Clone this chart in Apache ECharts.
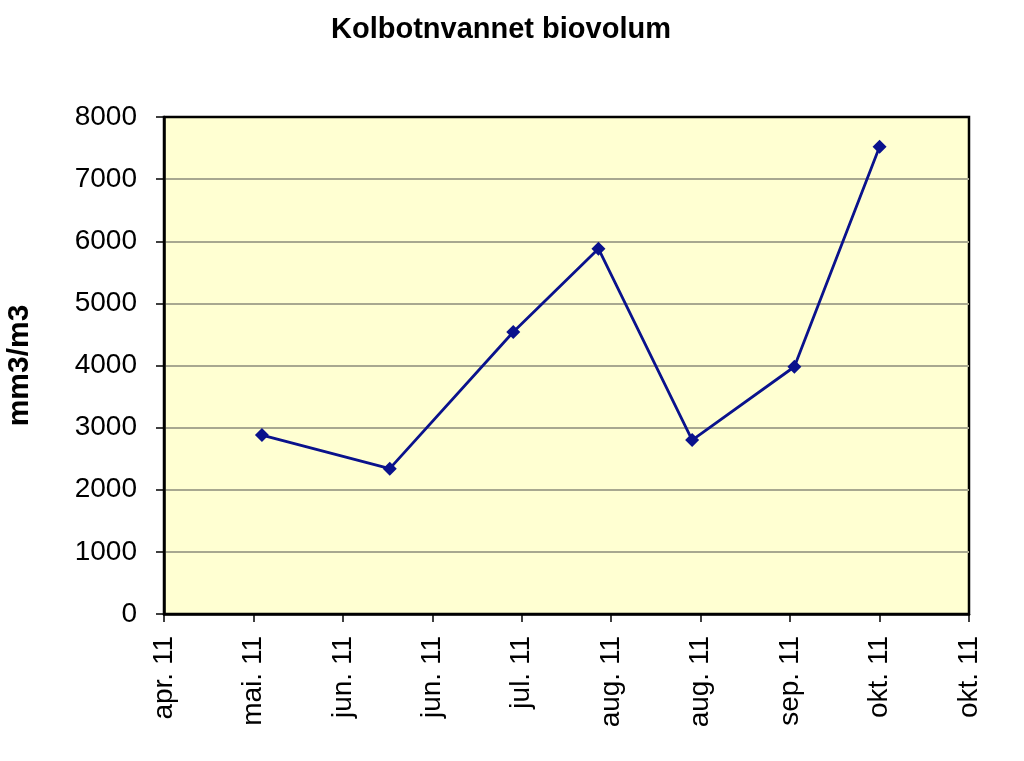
<!DOCTYPE html>
<html>
<head>
<meta charset="utf-8">
<script src="https://cdn.jsdelivr.net/npm/echarts@6/dist/echarts.min.js"></script>
<style>html,body{margin:0;padding:0;background:#fff;}#c{width:1024px;height:761px;}</style>
</head>
<body>
<div id="c"></div>
<script>
// x positions: days after the first axis tick (ticks every 21 days)
const tickLabels = ["apr. 11","mai. 11","jun. 11","jun. 11","jul. 11","aug. 11","aug. 11","sep. 11","okt. 11","okt. 11"];
const sampleDay = [23, 53, 82, 102, 124, 148, 168];
const biovolum = [2880, 2340, 4540, 5880, 2800, 3980, 7520];

const chart = echarts.init(document.getElementById('c'));
const font = 'Liberation Sans, Arial, sans-serif';
chart.setOption({
  animation: false,
  title: {
    text: 'Kolbotnvannet biovolum',
    left: 496, top: 10, textAlign: 'center',
    textStyle: {fontFamily: font, fontSize: 29, fontWeight: 'bold', color: '#000'}
  },
  grid: {left: 164, right: 55, top: 117, bottom: 147, outerBoundsMode: 'none', containLabel: false,
         show: true, backgroundColor: '#FFFFD2', borderColor: '#000', borderWidth: 2.5},
  xAxis: {
    type: 'value', min: 0, max: 189, interval: 21,
    axisLine: {show: true, lineStyle: {color: '#000', width: 2.5}},
    axisTick: {show: true, length: 8, lineStyle: {color: '#000', width: 1.5}},
    splitLine: {show: false},
    axisLabel: {
      rotate: 90, fontFamily: font, fontSize: 28, color: '#000', margin: 22,
      formatter: v => tickLabels[Math.round(v / 21)] || ''
    }
  },
  yAxis: {
    type: 'value', min: 0, max: 8000, interval: 1000,
    name: 'mm3/m3', nameLocation: 'middle', nameGap: 129, nameRotate: 90,
    nameTextStyle: {fontFamily: font, fontSize: 30, fontWeight: 'bold', color: '#000'},
    axisLine: {show: true, lineStyle: {color: '#000', width: 2.5}},
    axisTick: {show: true, length: 8, lineStyle: {color: '#000', width: 1.5}},
    splitLine: {show: true, showMinLine: false, showMaxLine: false, lineStyle: {color: '#A8A890', width: 2}},
    axisLabel: {fontFamily: font, fontSize: 28, color: '#000', margin: 27, formatter: v => String(v)}
  },
  series: [{
    type: 'line',
    data: sampleDay.map((d, i) => [d, biovolum[i]]),
    symbol: 'diamond', symbolSize: 14,
    lineStyle: {color: '#0A128C', width: 2.8},
    itemStyle: {color: '#0A128C'}
  }]
});
</script>
</body>
</html>
